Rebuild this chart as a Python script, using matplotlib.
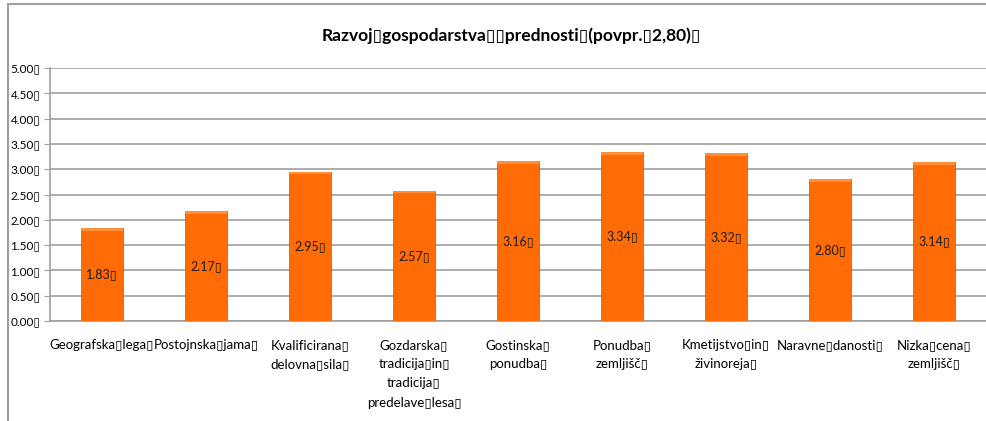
import matplotlib.pyplot as plt
from matplotlib.lines import Line2D

plt.rcParams['font.family'] = ['Lato', 'DejaVu Sans']

B = '\u25af'  # stand-in for the missing-glyph boxes of the original

title = f'Razvoj{B}gospodarstva{B}{B}prednosti{B}(povpr.{B}2,80){B}'
categories = [
    f'Geografska{B}lega{B}',
    f'Postojnska{B}jama{B}',
    f'Kvalificirana{B}\ndelovna{B}sila{B}',
    f'Gozdarska{B}\ntradicija{B}in{B}\ntradicija{B}\npredelave{B}lesa{B}',
    f'Gostinska{B}\nponudba{B}',
    f'Ponudba{B}\nzemljišč{B}',
    f'Kmetijstvo{B}in{B}\nživinoreja{B}',
    f'Naravne{B}danosti{B}',
    f'Nizka{B}cena{B}\nzemljišč{B}',
]
values = [1.83, 2.17, 2.95, 2.57, 3.16, 3.34, 3.32, 2.80, 3.14]
yticks = [0, 0.5, 1, 1.5, 2, 2.5, 3, 3.5, 4, 4.5, 5]

fig = plt.figure(figsize=(9.87, 4.21), dpi=100)
ax = fig.add_axes([50 / 987, 100 / 421, 936 / 987, 253 / 421])

x = list(range(len(values)))
ax.bar(x, values, width=0.40, color='#ff6c05', edgecolor='#e65f00',
       linewidth=0.6, zorder=3)
# lighter cap at the top of every bar
ax.bar(x, [0.05] * len(values), bottom=[v - 0.05 for v in values], width=0.40,
       color='#ff8f38', linewidth=0, zorder=4)

for xi, v in zip(x, values):
    ax.text(xi, v / 2, f'{v:.2f}{B}', ha='center', va='center',
            fontsize=9, color='#1a1a1a', zorder=5)

ax.set_xlim(-0.5, len(values) - 0.5)
ax.set_ylim(0, 5)
ax.set_yticks(yticks)
ax.set_yticklabels([f'{t:.2f}{B}' for t in yticks], fontsize=8.5)
ax.set_xticks(x)
ax.set_xticklabels(categories, fontsize=9.5, linespacing=1.72, va='top')
ax.tick_params(axis='x', length=0, pad=13)
ax.tick_params(axis='y', length=4, color='#a0a0a0', pad=3)
ax.yaxis.grid(True, color='#a6a6a6', linewidth=1.3, zorder=0)
ax.set_axisbelow(True)

for s in ['top', 'right']:
    ax.spines[s].set_visible(False)
for s in ['left', 'bottom']:
    ax.spines[s].set_color('#a0a0a0')
    ax.spines[s].set_linewidth(1.2)

fig.text(511 / 987, 1 - 36 / 421, title, ha='center', va='center',
         fontsize=12.5, fontweight='bold')

# outer chart frame (top and left edges visible)
fig.add_artist(Line2D([8 / 987, 1], [1 - 4 / 421] * 2, color='#a0a0a0', lw=1.5))
fig.add_artist(Line2D([8 / 987] * 2, [0, 1 - 4 / 421], color='#a0a0a0', lw=1.5))

fig.savefig('out.png', dpi=100)
